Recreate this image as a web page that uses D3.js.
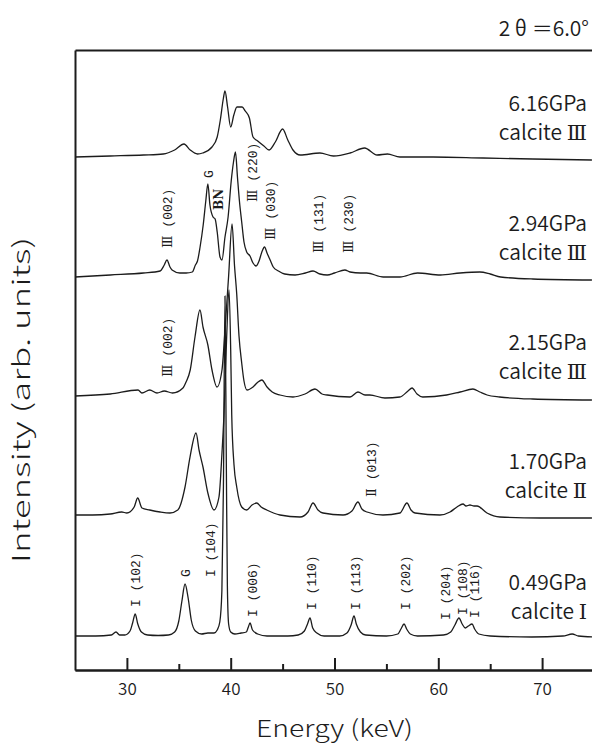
<!DOCTYPE html>
<html>
<head>
<meta charset="utf-8">
<script src="https://cdnjs.cloudflare.com/ajax/libs/d3/7.8.5/d3.min.js"></script>
<style>
  body { margin: 0; background: #fff; }
</style>
</head>
<body>
<div id="chart"></div>
<script>
// spectra: [energy keV, intensity above own baseline]
var spec616 = [[25.0,0],[28.4,1],[31.6,2],[33.5,3],[34.6,7],[35.5,13],[36.1,7],[36.8,3],[37.3,4],[38.2,10],[38.7,20],[39.0,37],[39.3,59],[39.45,66],[39.7,50],[40.0,30],[40.3,42],[40.6,50],[41.1,50],[41.4,46],[41.8,39],[42.15,20],[42.6,16],[43.2,11],[43.7,7],[44.3,15],[45.0,28],[45.5,17],[46.0,7],[46.7,2],[48.6,4],[49.9,1],[51.5,4],[52.9,9],[54.1,2],[55.1,3],[56.3,0],[59.5,0],[64.3,-1],[69.1,-2],[74.8,-3]];
var spec294 = [[25,0],[28.4,2],[31.6,4],[33.2,6],[33.6,12],[33.86,17],[34.15,10],[34.35,7],[35.1,4],[35.7,4],[36.3,5],[36.6,12],[36.8,16],[37.05,30],[37.35,52],[37.6,76],[37.8,93],[38.0,72],[38.3,60],[38.5,58],[38.7,45],[38.97,20],[39.16,17],[39.45,40],[39.75,60],[40.05,96],[40.27,115],[40.46,125],[40.65,100],[40.85,75],[41.06,55],[41.28,35],[41.54,25],[41.86,21],[42.15,14],[42.45,11],[42.73,16],[43.0,25],[43.26,30],[43.5,24],[43.8,17],[44.1,10],[44.6,6],[45.2,3],[46.2,2],[47.2,4],[47.93,6],[48.6,3],[49.3,2],[50.0,4],[51.0,7],[51.5,5],[52.5,4],[53.1,4],[54.7,0],[56.3,0],[58.0,4],[60.2,2],[62.1,4],[64.0,5],[65.0,3],[66.0,0],[69.1,-2],[74.8,-3]];
var spec215 = [[25,0],[28.4,2],[31.07,6],[31.45,3],[32.2,6],[32.9,3],[33.6,5],[34.4,3],[35.4,8],[35.7,14],[36.1,26],[36.56,59],[37.04,86],[37.33,69],[37.8,51],[38.2,26],[38.68,9],[39.16,26],[39.45,66],[39.8,120],[40.13,172],[40.37,130],[40.58,102],[40.8,60],[41.06,33],[41.28,15],[41.57,6],[42.15,9],[42.63,14],[43.0,16],[43.5,9],[44.0,4],[44.75,1],[46.0,-1],[47.16,2],[48.12,7],[48.8,2],[49.3,1],[51.5,-1],[52.26,4],[52.94,1],[53.4,1],[54.86,-2],[56.3,-1],[57.08,5],[57.47,8],[57.95,2],[58.5,-1],[60.8,1],[62.1,4],[63.34,7],[64.0,4],[64.7,1],[65.9,-1],[69.1,-3],[74.8,-4]];
var spec170 = [[25,0],[26.7,0],[28.4,1],[29.5,3],[30.0,2],[30.7,8],[31.04,17],[31.45,7],[32.2,5],[33.2,3],[34.15,2],[34.9,5],[35.6,28],[36.08,58],[36.66,82],[36.95,65],[37.33,48],[37.8,22],[38.39,5],[38.87,18],[39.16,62],[39.35,100],[39.6,175],[39.84,225],[40.0,165],[40.1,100],[40.32,50],[40.58,28],[41.06,8],[41.54,5],[42.05,10],[42.5,12],[42.93,8],[43.47,5],[44.75,0],[46.68,-2],[47.45,3],[47.93,12],[48.41,5],[48.89,2],[50.82,0],[51.68,4],[52.26,13],[52.64,6],[53.13,3],[54.67,0],[56.31,2],[56.98,12],[57.37,5],[57.76,2],[60.16,0],[61.13,3],[61.8,8],[62.38,11],[62.67,9],[63.05,10],[63.44,9],[63.73,9],[64.69,2],[65.94,-2],[69.8,-3],[74.8,-3]];
var spec049 = [[25,0],[27,0],[28.5,1],[28.95,4],[29.3,1],[29.8,1],[30.3,5],[30.55,13],[30.8,22],[31.05,12],[31.4,4],[32,1],[33,0.5],[34,1],[34.6,4],[35.0,15],[35.3,35],[35.6,52],[35.9,38],[36.2,16],[36.6,5],[37.2,2],[37.8,3],[38.4,3],[38.7,6],[38.95,14],[39.15,45],[39.3,150],[39.45,340],[39.58,170],[39.68,50],[39.8,12],[40.0,4],[40.4,2],[41.0,3],[41.5,4],[41.7,9],[41.86,13],[42.1,6],[42.6,2],[43.5,0],[45.5,0],[46.5,1],[47.1,5],[47.4,12],[47.64,18],[47.9,8],[48.3,3],[49,0],[50.5,0],[51.2,3],[51.6,11],[51.88,20],[52.1,12],[52.5,4],[53,1],[55,0],[56.1,2],[56.4,7],[56.7,12],[56.95,7],[57.3,2],[58,0],[60.5,1],[61.2,4],[61.6,11],[61.99,18],[62.3,12],[62.6,8],[62.9,10],[63.25,12],[63.5,7],[63.9,2],[65,0],[69,-1],[72,0],[72.9,2],[73.5,0],[75,-1]];

var spectra = [spec616, spec294, spec215, spec170, spec049];
var offsets = [513, 393, 274, 155, 34];      // baseline of each spectrum (arb. units)
var pressures = ["6.16GPa", "2.94GPa", "2.15GPa", "1.70GPa", "0.49GPa"];
var phases = ["calcite Ⅲ", "calcite Ⅲ", "calcite Ⅲ", "calcite Ⅱ", "calcite Ⅰ"];

// peak assignments
var annoText = ["Ⅲ (002)", "G", "BN", "Ⅲ (220)", "Ⅲ (030)", "Ⅲ (131)", "Ⅲ (230)",
                "Ⅲ (002)", "Ⅱ (013)",
                "I (102)", "G", "I (104)", "I (006)", "I (110)", "I (113)", "I (202)", "I (204)", "I (108)", "I (116)"];
var annoSpec = [1, 1, 1, 1, 1, 1, 1, 2, 3, 4, 4, 4, 4, 4, 4, 4, 4, 4, 4];
var annoEnergy = [33.86, 37.81, 38.87, 42.05, 43.79, 48.5, 51.3, 33.86, 53.6,
                  30.78, 35.6, 38.0, 42.05, 47.74, 51.98, 56.8, 60.65, 62.28, 63.44];
var annoLevel = [29, 99, 67, 75, 37, 24, 24, 19, 18, 29, 59, 59, 19, 26, 26, 26, 16, 21, 18];

var xTicks = [30, 40, 50, 60, 70];
var xMinor = [35, 45, 55, 65, 75];

var W = 592, H = 744;
var svg = d3.select("#chart").append("svg").attr("width", W).attr("height", H);

var x = d3.scaleLinear().domain([25, 75]).range([75, 594]);
var y = d3.scaleLinear().domain([0, 620]).range([670, 50]);

var ink = "#1c1c1c";
var jp = "'Noto Sans CJK JP', 'Noto Sans', sans-serif";
var mono = "'Liberation Mono', 'DejaVu Sans Mono', monospace";
var roman = "'DejaVu Serif', 'Liberation Serif', serif";

// text with roman numerals set in a serif face
function richText(sel, str, romanSize) {
  str.split(/([ⅠⅡⅢ])/).forEach(function(part) {
    if (!part) return;
    var ts = sel.append("tspan").text(part);
    if (/[ⅠⅡⅢ]/.test(part)) {
      ts.attr("font-family", roman);
      if (romanSize) ts.attr("font-size", romanSize);
    }
  });
}

// spectra lines
var line = d3.line().curve(d3.curveMonotoneX);
spectra.forEach(function(s, i) {
  svg.append("path")
    .attr("d", line(s.map(d => [x(d[0]), y(offsets[i] + d[1])])))
    .attr("fill", "none")
    .attr("stroke", ink)
    .attr("stroke-width", 1.3)
    .attr("stroke-linejoin", "round");
});

// frame
var axB = svg.append("g").attr("transform", "translate(0," + y(0) + ")")
  .call(d3.axisBottom(x).tickValues(xTicks).tickSize(-12).tickSizeOuter(0).tickPadding(13));
svg.append("g").attr("transform", "translate(0," + y(0) + ")")
  .call(d3.axisBottom(x).tickValues(xMinor).tickSize(-6).tickSizeOuter(0).tickFormat(""));
svg.append("g").attr("transform", "translate(" + x(25) + ",0)")
  .call(d3.axisLeft(y).tickValues([]).tickSizeOuter(0));
svg.append("g").attr("transform", "translate(0," + y(620) + ")")
  .call(d3.axisTop(x).tickValues([]).tickSizeOuter(0));
svg.selectAll(".domain").attr("stroke", ink).attr("stroke-width", 2);
svg.selectAll(".tick line").attr("stroke", ink).attr("stroke-width", 2);
axB.selectAll(".tick text").attr("font-family", jp).attr("font-size", 17).attr("font-weight", 350).attr("fill", ink);

// axis titles
svg.append("text")
  .attr("x", x(50)).attr("y", 737)
  .attr("text-anchor", "middle")
  .attr("font-family", jp).attr("font-size", 23).attr("font-weight", 300).attr("fill", ink)
  .attr("textLength", 157).attr("lengthAdjust", "spacingAndGlyphs")
  .text("Energy (keV)");

svg.append("text")
  .attr("transform", "translate(30,400) rotate(-90)")
  .attr("text-anchor", "middle")
  .attr("font-family", jp).attr("font-size", 24).attr("font-weight", 300).attr("fill", ink)
  .attr("textLength", 326).attr("lengthAdjust", "spacingAndGlyphs")
  .text("Intensity (arb. units)");

svg.append("text")
  .attr("x", 589).attr("y", 36)
  .attr("text-anchor", "end")
  .attr("font-family", jp).attr("font-size", 21).attr("font-weight", 350).attr("fill", ink)
  .text("2 θ ＝6.0°");

// pressure / phase labels
pressures.forEach(function(p, i) {
  svg.append("text")
    .attr("x", 587).attr("y", y(offsets[i]) - 46)
    .attr("text-anchor", "end")
    .attr("font-family", jp).attr("font-size", 21).attr("font-weight", 350).attr("fill", ink)
    .text(p);
  var t = svg.append("text")
    .attr("x", 587).attr("y", y(offsets[i]) - 17)
    .attr("text-anchor", "end")
    .attr("font-family", jp).attr("font-size", 21).attr("font-weight", 350).attr("fill", ink);
  richText(t, phases[i], 21);
});

// peak labels, rotated
annoText.forEach(function(s, i) {
  var t = svg.append("text")
    .attr("transform", "translate(" + x(annoEnergy[i]) + "," + y(offsets[annoSpec[i]] + annoLevel[i]) + ") rotate(-90)")
    .attr("dy", "0.35em")
    .attr("font-family", mono)
    .attr("font-size", 13).attr("fill", ink);
  if (s === "BN") t.attr("font-family", roman).attr("font-weight", "bold").attr("font-size", 12);
  richText(t, s, 13);
});
</script>
</body>
</html>
